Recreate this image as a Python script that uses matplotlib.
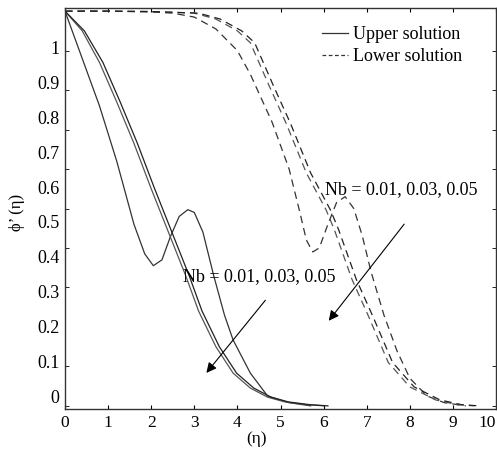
import numpy as np
import matplotlib.pyplot as plt
from matplotlib.lines import Line2D

plt.rcParams['font.family'] = ['Liberation Serif', 'DejaVu Serif']

# Upper solution (solid), three values of Nb
up1_x = [0, 0.4, 0.8, 1.2, 1.6, 1.85, 2.05, 2.25, 2.45, 2.65, 2.85, 3.0, 3.2, 3.45, 3.7, 3.9, 4.3, 4.7, 5.2, 5.7]
up1_y = [1.0, 0.88, 0.76, 0.62, 0.46, 0.385, 0.355, 0.37, 0.43, 0.48, 0.497, 0.49, 0.44, 0.33, 0.23, 0.167, 0.083, 0.025, 0.008, 0.0]
up2_x = [0, 0.4, 0.8, 1.2, 1.6, 2.0, 2.4, 2.8, 3.1, 3.5, 3.9, 4.3, 4.7, 5.1, 5.6, 6.0]
up2_y = [1.0, 0.95, 0.87, 0.77, 0.665, 0.55, 0.44, 0.33, 0.24, 0.15, 0.083, 0.045, 0.022, 0.01, 0.003, 0.0]
up3_x = [0, 0.45, 0.88, 1.28, 1.68, 2.08, 2.48, 2.88, 3.18, 3.58, 3.98, 4.38, 4.78, 5.18, 5.68, 6.1]
up3_y = [1.0, 0.95, 0.87, 0.77, 0.665, 0.55, 0.44, 0.33, 0.24, 0.15, 0.083, 0.045, 0.022, 0.01, 0.003, 0.0]

# Lower solution (dashed)
lo1_x = [0, 1, 2, 2.5, 3, 3.5, 4.0, 4.3, 4.8, 5.2, 5.45, 5.6, 5.75, 5.9, 6.1, 6.3, 6.5, 6.7, 6.9, 7.1, 7.4, 7.7, 8.0, 8.4, 8.8, 9.3]
lo1_y = [1.0, 1.0, 0.998, 0.995, 0.985, 0.955, 0.9, 0.84, 0.72, 0.6, 0.49, 0.42, 0.39, 0.4, 0.46, 0.515, 0.53, 0.5, 0.43, 0.34, 0.23, 0.14, 0.07, 0.025, 0.008, 0.0]
lo2_x = [0, 1, 2, 3, 3.5, 4.0, 4.3, 4.74, 5.13, 5.6, 6.06, 6.25, 6.66, 7.05, 7.5, 8.0, 8.6, 9.1, 9.5]
lo2_y = [1.0, 1.0, 0.999, 0.995, 0.98, 0.95, 0.92, 0.81, 0.716, 0.59, 0.496, 0.446, 0.32, 0.225, 0.11, 0.048, 0.015, 0.003, 0.0]
lo3_x = [0, 1, 2, 3.1, 3.6, 4.1, 4.4, 4.84, 5.23, 5.7, 6.16, 6.35, 6.76, 7.15, 7.6, 8.1, 8.7, 9.2, 9.6]
lo3_y = lo2_y

ytick_text = ['0', '0.1', '0.2', '0.3', '0.4', '0.5', '0.6', '0.7', '0.8', '0.9', '1']
nb_text = 'Nb = 0.01, 0.03, 0.05'

fig = plt.figure(figsize=(4.97, 4.55), dpi=100)
ax = fig.add_axes([65/497, 1 - 409/455, 431/497, 401/455])

ax.plot(up1_x, up1_y, color='#333333', lw=0.9)
ax.plot(up2_x, up2_y, color='#555555', lw=0.9)
ax.plot(up3_x, up3_y, color='#222222', lw=0.9)
for xs, ys, c in [(lo1_x, lo1_y, '#333333'), (lo2_x, lo2_y, '#555555'), (lo3_x, lo3_y, '#222222')]:
    ax.plot(xs, ys, color=c, lw=0.9, dashes=(6, 4))

ax.set_xlim(0, 10)
ax.set_ylim(-0.008, 1.008)
ax.set_xticks(range(11))
# labels sit a little off the tick marks in the original
ax.set_yticks([(9 + 35*k)/395 for k in range(11)])
ax.set_yticklabels(ytick_text)
ax.set_yticks(np.arange(0, 0.95, 0.1), minor=True)
ax.tick_params(axis='y', which='major', length=0, pad=4, labelsize=13)
ax.tick_params(axis='y', which='minor', direction='in', length=3, left=True, right=True)
ax.tick_params(axis='x', direction='in', length=3, top=True, pad=4, labelsize=12.5)
ax.get_xticklabels()[-1].set_ha('right')
for s in ax.spines.values():
    s.set_linewidth(1.0)
    s.set_color('#333333')

ax.set_xlabel('(η)', fontsize=12.5)
ax.xaxis.set_label_coords(192/432, -0.055)
ax.set_ylabel('ϕ’ (η)', fontsize=12)
ax.yaxis.set_label_coords(-0.093, 0.49)

ax.annotate('', xy=(6.08, 0.21), xytext=(7.91, 0.466),
            arrowprops=dict(arrowstyle='-|>', color='black', lw=0.8, mutation_scale=15))
ax.annotate('', xy=(3.24, 0.078), xytext=(4.69, 0.273),
            arrowprops=dict(arrowstyle='-|>', color='black', lw=0.8, mutation_scale=15))
ax.text(6.03, 0.547, nb_text, fontsize=13, va='center', ha='left')
ax.text(2.73, 0.327, nb_text, fontsize=13, va='center', ha='left')

handles = [Line2D([], [], color='#333333', lw=0.9),
           Line2D([], [], color='#333333', lw=0.9, dashes=(3, 2))]
ax.legend(handles, ['Upper solution', 'Lower solution'], loc='upper right',
          bbox_to_anchor=((463-65)/432, (409-26)/401), frameon=False, fontsize=13,
          handlelength=1.4, handletextpad=0.3, labelspacing=0.3, borderpad=0, borderaxespad=0)

fig.savefig('out.png', dpi=100)
